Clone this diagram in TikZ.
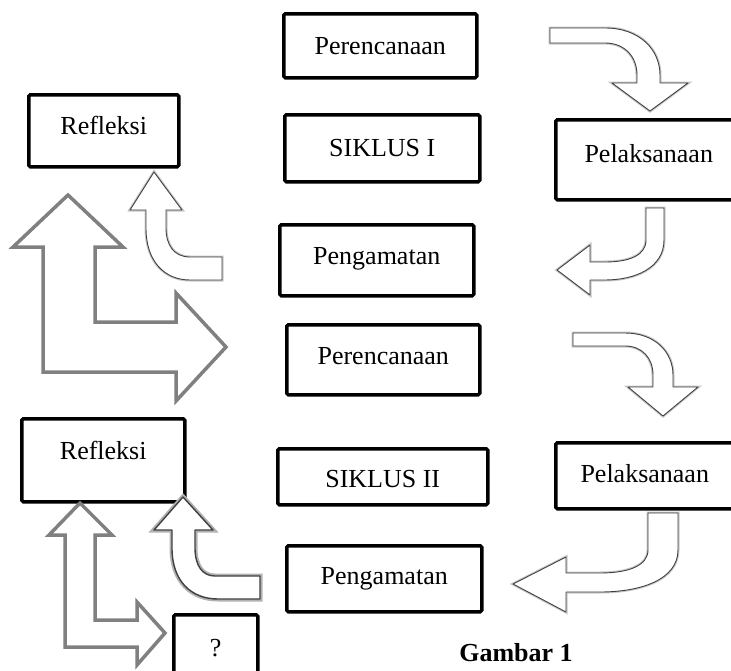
\documentclass[tikz,border=0pt]{standalone}
\usepackage{fontspec}
\setmainfont{Liberation Serif}

\begin{document}
\begin{tikzpicture}[x=1pt, y=-1pt,
    box/.style={draw, line width=3.5pt, rounded corners=1.5pt, anchor=north west, inner xsep=0pt, inner ysep=0pt, font=\fontsize{26}{31}\selectfont},
    bent/.style={draw=black!75, fill=white, line width=0.9pt, line join=round, preaction={draw=black!22, line width=3pt}},
    frame/.style={draw=black!50, line width=3.5pt, line join=miter}]

    \useasboundingbox (0,0) rectangle (731,670);
    \clip (0,0) rectangle (731,670);

    \node [box, minimum width=193pt, text height=41pt, text depth=23pt] (plan1) at (282,12) {Perencanaan};
    \node [box, minimum width=150pt, text height=40pt, text depth=32pt] (refl1) at (27,93) {Refleksi};
    \node [box, minimum width=195pt, text height=42pt, text depth=25pt] (cyc1) at (283,113) {SIKLUS I};
    \node [box, minimum width=186pt, text height=43pt, text depth=37pt] (act1) at (554,118) {Pelaksanaan};
    \node [box, minimum width=194pt, text height=40pt, text depth=31pt] (obs1) at (278,223) {Pengamatan};

    \node [box, minimum width=193pt, text height=40pt, text depth=30pt] (plan2) at (285,323) {Perencanaan};
    \node [box, minimum width=163pt, text height=41pt, text depth=42pt] (refl2) at (20,417) {Refleksi};
    \node [box, minimum width=210pt, text height=39pt, text depth=17pt] (cyc2) at (276,447) {SIKLUS II};
    \node [box, minimum width=178pt, text height=40pt, text depth=26pt] (act2) at (554,441) {Pelaksanaan};
    \node [box, minimum width=195pt, text height=39pt, text depth=27pt] (obs2) at (285,544) {Pengamatan};
    \node [box, minimum width=84pt, text height=42pt, text depth=40pt] (query) at (172,613) {?};

    \node [inner sep=0pt, text depth=0pt, font=\bfseries\fontsize{26}{31}\selectfont] (caption) at (516,652) {Gambar 1};

    % siklus I
    \draw [bent] (550,28) -- (605,28) .. controls (640,28) and (660,50) .. (660,75) -- (660,83) -- (688,83) -- (650,111) -- (612,83) -- (637,83) -- (637,75) .. controls (637,57) and (625,43) .. (605,43) -- (550,43) -- cycle;
    \draw [bent] (646,208) -- (664,208) -- (664,240) .. controls (664,268) and (635,280) .. (605,280) -- (590,280) -- (590,295) -- (557,270) -- (590,245) -- (590,262) -- (605,262) .. controls (630,262) and (646,255) .. (646,240) -- cycle;
    \draw [bent] (222,257) -- (190,257) .. controls (174,257) and (166,245) .. (166,228) -- (166,210) -- (182,210) -- (154,172) -- (130,210) -- (146,210) -- (146,228) .. controls (146,262) and (165,280) .. (190,280) -- (222,280) -- cycle;
    \draw [frame] (43,372) -- (43,247) -- (13,247) -- (68,195) -- (123,247) -- (95,247) -- (95,322) -- (176,322) -- (176,293) -- (226,347) -- (176,401) -- (176,372) -- cycle;

    % siklus II
    \draw [bent] (573,333) -- (625,333) .. controls (655,333) and (673,352) .. (673,375) -- (673,387) -- (698,387) -- (663,416) -- (628,387) -- (653,387) -- (653,375) .. controls (653,358) and (642,346) .. (625,346) -- (573,346) -- cycle;
    \draw [bent] (648,513) -- (678,513) -- (678,550) .. controls (678,580) and (640,592) .. (600,592) -- (566,592) -- (566,612) -- (513,584) -- (566,557) -- (566,573) -- (600,573) .. controls (630,573) and (648,565) .. (648,550) -- cycle;
    \draw [bent, line width=1.4pt, preaction={draw=black!30, line width=5pt}] (260,576) -- (215,576) .. controls (202,576) and (195,565) .. (195,548) -- (195,530) -- (213,530) -- (183,497) -- (154,530) -- (172,530) -- (172,548) .. controls (172,582) and (192,599) .. (218,599) -- (260,599) -- cycle;
    \draw [frame] (65,647) -- (65,535) -- (49,535) -- (80,503) -- (112,535) -- (95,535) -- (95,620) -- (137,620) -- (137,602) -- (165,633) -- (137,665) -- (137,647) -- cycle;

\end{tikzpicture}
\end{document}
